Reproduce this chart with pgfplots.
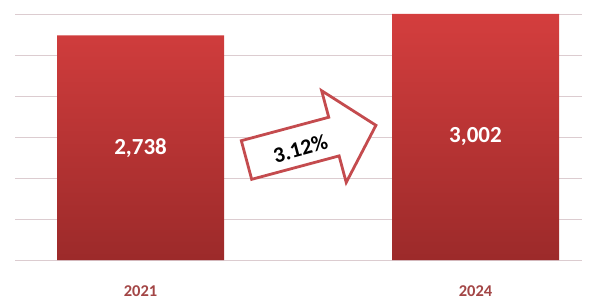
\documentclass[border=0pt]{standalone}
\usepackage{pgfplots}
\pgfplotsset{compat=1.18}
\usepackage{fontspec}
\setmainfont{Carlito}
\definecolor{bartop}{HTML}{D43E3E}
\definecolor{barbot}{HTML}{9C2A2A}
\definecolor{gridc}{HTML}{DCCCD0}
\definecolor{yearc}{HTML}{A34646}
\definecolor{arrowc}{HTML}{C44B4E}
\begin{document}
\begin{tikzpicture}[x=1bp,y=1bp]
\begin{axis}[
  at={(15bp,44bp)}, anchor=south west,
  scale only axis, width=567bp, height=246bp,
  xmin=-0.375, xmax=1.318, ymin=0, ymax=3000,
  clip=false,
  axis line style={draw=none},
  ytick={0,500,...,3000}, yticklabels={},
  ymajorgrids, grid style={gridc, line width=0.9bp},
  major tick length=0pt,
  xtick={0,1}, xticklabels={\textbf{2021},\textbf{2024}},
  xticklabel style={font=\fontsize{16.5bp}{18bp}\selectfont\bfseries, text=yearc, anchor=base, yshift=-36bp},
]
\addplot[ybar, bar width=167bp, bar shift=0pt, draw=none, top color=bartop, bottom color=barbot]
  coordinates {(0,2738) (1,3002)};
\addplot[only marks, mark=none, draw=none, point meta=explicit symbolic,
  nodes near coords, nodes near coords style={anchor=center, text=white, font=\fontsize{23bp}{25bp}\selectfont\bfseries}]
  coordinates {(0,1369) [2,738] (1,1501) [3,002]};
\end{axis}
\begin{scope}[shift={(246.5,144)}, rotate=15]
  \draw[arrowc, line width=2.8bp, fill=white, line join=miter]
    (0,-20) -- (90.5,-20) -- (90.5,-47.5) -- (134,0) -- (90.5,47.5) -- (90.5,20) -- (0,20) -- cycle;
  \node[rotate=15, font=\fontsize{22bp}{24bp}\selectfont\bfseries, text=black] at (55,-3) {3.12\%};
\end{scope}
\pgfresetboundingbox
\path[use as bounding box] (0,0) rectangle (592,304);
\end{tikzpicture}
\end{document}
